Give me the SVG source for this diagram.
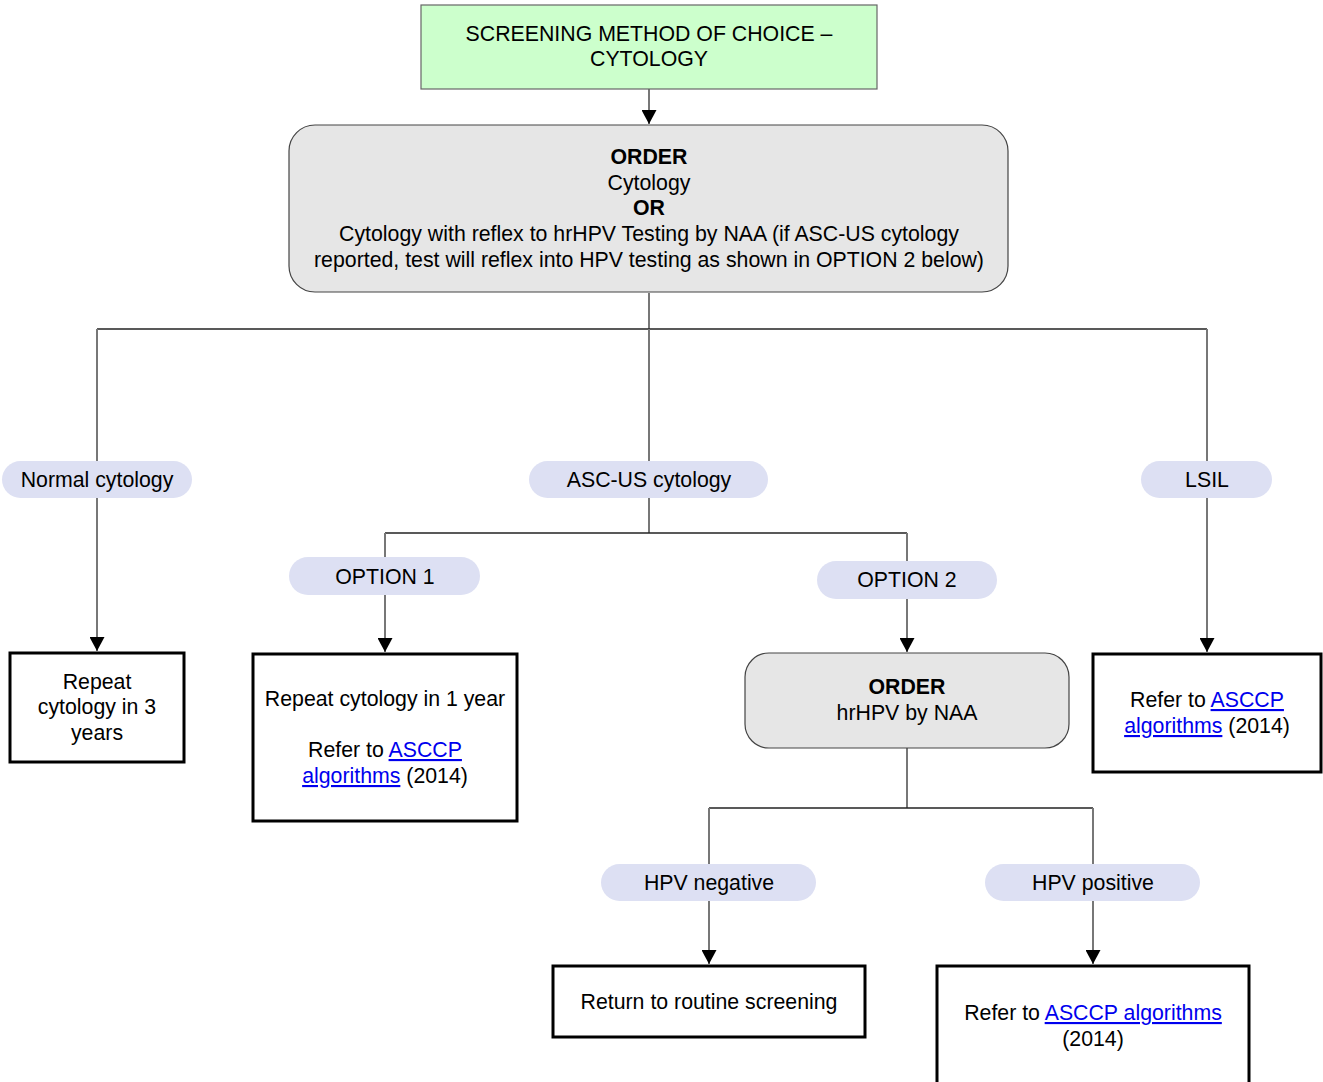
<svg xmlns="http://www.w3.org/2000/svg" width="1323" height="1082" viewBox="0 0 1323 1082">
<style>
text{font-family:"Liberation Sans",Arial,sans-serif;font-size:21.3px;fill:#000;text-anchor:middle}
.b{font-weight:bold}
.lnk{fill:#0000ee;text-decoration:underline}
.v{stroke:#777;stroke-width:2;fill:none}
.h{stroke:#222;stroke-width:1.5;fill:none}
.pill{fill:#dde0f3;stroke:none}
.box{fill:#fff;stroke:#000;stroke-width:3}
.round{fill:#e6e6e6;stroke:#444;stroke-width:1.2}
</style>
<defs>
<marker id="a" markerWidth="15" markerHeight="15" refX="14" refY="7.5" orient="auto" markerUnits="userSpaceOnUse" viewBox="0 0 15 15">
<path d="M0,0 L14,7.5 L0,15 Z" fill="#000"/>
</marker>
</defs>
<g id="connectors">
<path class="v" d="M649,89 V124" marker-end="url(#a)"/>
<path class="v" d="M649,293 V329"/>
<path class="h" d="M97,329 H1207"/>
<path class="v" d="M97,329 V461"/>
<path class="v" d="M649,329 V461"/>
<path class="v" d="M1207,329 V461"/>
<path class="v" d="M97,498 V651" marker-end="url(#a)"/>
<path class="v" d="M649,498 V533"/>
<path class="h" d="M385,533 H907"/>
<path class="v" d="M385,533 V557"/>
<path class="v" d="M907,533 V561"/>
<path class="v" d="M385,595 V652" marker-end="url(#a)"/>
<path class="v" d="M907,599 V652" marker-end="url(#a)"/>
<path class="v" d="M1207,498 V652" marker-end="url(#a)"/>
<path class="v" d="M907,748 V808"/>
<path class="h" d="M709,808 H1093"/>
<path class="v" d="M709,808 V864"/>
<path class="v" d="M1093,808 V864"/>
<path class="v" d="M709,901 V964" marker-end="url(#a)"/>
<path class="v" d="M1093,901 V964" marker-end="url(#a)"/>
</g>
<g id="top">
<rect x="421" y="5" width="456" height="84" fill="#ccffcc" stroke="#666" stroke-width="1.2"/>
<text x="649" y="41">SCREENING METHOD OF CHOICE –</text>
<text x="649" y="66">CYTOLOGY</text>
</g>
<g id="order1">
<rect class="round" x="289" y="125" width="719" height="167" rx="26"/>
<text class="b" x="649" y="164">ORDER</text>
<text x="649" y="190">Cytology</text>
<text class="b" x="649" y="215">OR</text>
<text x="649" y="241">Cytology with reflex to hrHPV Testing by NAA (if ASC-US cytology</text>
<text x="649" y="267">reported, test will reflex into HPV testing as shown in OPTION 2 below)</text>
</g>
<g id="normal">
<rect class="pill" x="2" y="461" width="190" height="37" rx="18.5"/>
<text x="97" y="487">Normal cytology</text>
</g>
<g id="ascus">
<rect class="pill" x="529" y="461" width="239" height="37" rx="18.5"/>
<text x="649" y="487">ASC-US cytology</text>
</g>
<g id="lsil">
<rect class="pill" x="1141" y="461" width="131" height="37" rx="18.5"/>
<text x="1207" y="487">LSIL</text>
</g>
<g id="opt1">
<rect class="pill" x="289" y="557" width="191" height="38" rx="19"/>
<text x="385" y="584">OPTION 1</text>
</g>
<g id="opt2">
<rect class="pill" x="817" y="561" width="180" height="38" rx="19"/>
<text x="907" y="587">OPTION 2</text>
</g>
<g id="repeat3">
<rect class="box" x="10" y="653" width="174" height="109"/>
<text x="97" y="689">Repeat</text>
<text x="97" y="714">cytology in 3</text>
<text x="97" y="740">years</text>
</g>
<g id="repeat1">
<rect class="box" x="253" y="654" width="264" height="167"/>
<text x="385" y="706">Repeat cytology in 1 year</text>
<text x="385" y="757">Refer to <tspan class="lnk">ASCCP</tspan></text>
<text x="385" y="783"><tspan class="lnk">algorithms</tspan> (2014)</text>
</g>
<g id="order2">
<rect class="round" x="745" y="653" width="324" height="95" rx="24"/>
<text class="b" x="907" y="694">ORDER</text>
<text x="907" y="720">hrHPV by NAA</text>
</g>
<g id="lsilbox">
<rect class="box" x="1093" y="654" width="228" height="118"/>
<text x="1207" y="707">Refer to <tspan class="lnk">ASCCP</tspan></text>
<text x="1207" y="733"><tspan class="lnk">algorithms</tspan> (2014)</text>
</g>
<g id="hpvneg">
<rect class="pill" x="601" y="864" width="215" height="37" rx="18.5"/>
<text x="709" y="890">HPV negative</text>
</g>
<g id="hpvpos">
<rect class="pill" x="985" y="864" width="215" height="37" rx="18.5"/>
<text x="1093" y="890">HPV positive</text>
</g>
<g id="routine">
<rect class="box" x="553" y="966" width="312" height="71"/>
<text x="709" y="1009">Return to routine screening</text>
</g>
<g id="refer">
<rect class="box" x="937" y="966" width="312" height="130"/>
<text x="1093" y="1020">Refer to <tspan class="lnk">ASCCP algorithms</tspan></text>
<text x="1093" y="1046">(2014)</text>
</g>
</svg>
